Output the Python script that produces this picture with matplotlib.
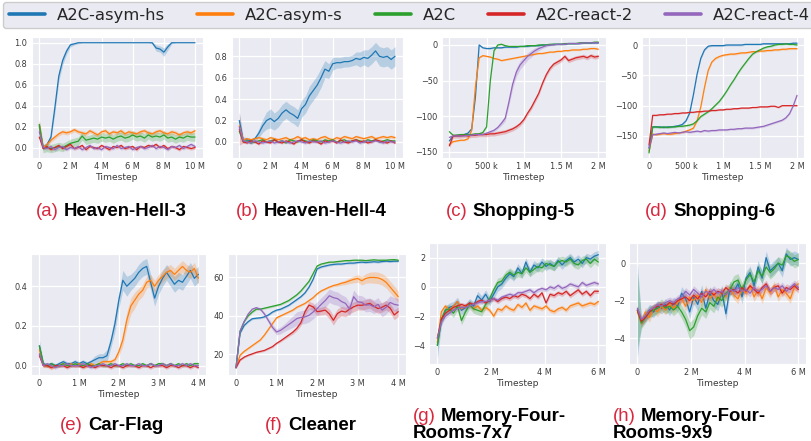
import matplotlib.pyplot as plt
import matplotlib.ticker as mticker
import numpy as np
import seaborn as sns

sns.set_style("darkgrid")
plt.rcParams["font.family"] = ["DejaVu Sans"]

W, H = 811, 441

labels = ["A2C-asym-hs", "A2C-asym-s", "A2C", "A2C-react-2", "A2C-react-4"]
colors = ["#1f77b4", "#ff7f0e", "#2ca02c", "#d62728", "#9467bd"]

# (a) Heaven-Hell-3, 0..10 M
hh3_asym_hs = [0.20, 0.00, 0.03, 0.10, 0.38, 0.68, 0.83, 0.92, 0.98, 0.99,
               1.00, 1.00, 1.00, 1.00, 1.00, 1.00, 1.00, 1.00, 1.00, 1.00,
               1.00, 1.00, 1.00, 1.00, 1.00, 1.00, 1.00, 1.00, 1.00, 1.00,
               0.95, 0.94, 0.91, 0.96, 1.00, 1.00, 1.00, 1.00, 1.00, 1.00,
               1.00]
hh3_asym_hs_sd = [0.05, 0.02, 0.02, 0.03, 0.05, 0.05, 0.04, 0.03, 0.02, 0.01,
                  0.01, 0.00, 0.00, 0.00, 0.00, 0.00, 0.00, 0.00, 0.00, 0.00,
                  0.00, 0.00, 0.00, 0.00, 0.00, 0.00, 0.00, 0.00, 0.00, 0.01,
                  0.03, 0.03, 0.04, 0.03, 0.01, 0.00, 0.00, 0.00, 0.00, 0.00,
                  0.00]
hh3_asym_s = [0.22, 0.00, 0.03, 0.07, 0.10, 0.13, 0.15, 0.14, 0.15, 0.17,
              0.15, 0.14, 0.13, 0.16, 0.14, 0.12, 0.15, 0.16, 0.13, 0.15,
              0.14, 0.16, 0.13, 0.15, 0.14, 0.13, 0.15, 0.16, 0.14, 0.13,
              0.15, 0.16, 0.14, 0.13, 0.15, 0.14, 0.12, 0.14, 0.15, 0.14,
              0.16]
hh3_asym_s_sd = [0.05, 0.01, 0.02, 0.02, 0.02, 0.02, 0.02, 0.02, 0.02, 0.02,
                 0.02, 0.02, 0.02, 0.02, 0.02, 0.02, 0.02, 0.02, 0.02, 0.02,
                 0.02, 0.02, 0.02, 0.02, 0.02, 0.02, 0.02, 0.02, 0.02, 0.02,
                 0.02, 0.02, 0.02, 0.02, 0.02, 0.02, 0.02, 0.02, 0.02, 0.02,
                 0.02]
hh3_a2c = [0.22, -0.01, 0.00, -0.01, 0.00, 0.01, 0.00, 0.02, 0.04, 0.05,
           0.06, 0.11, 0.07, 0.08, 0.09, 0.08, 0.10, 0.09, 0.10, 0.08,
           0.10, 0.11, 0.09, 0.10, 0.12, 0.10, 0.11, 0.09, 0.12, 0.10,
           0.11, 0.10, 0.12, 0.09, 0.10, 0.08, 0.10, 0.09, 0.11, 0.10,
           0.10]
hh3_react2 = [0.10, -0.01, 0.01, -0.02, 0.00, 0.02, -0.01, 0.01, 0.03, -0.01,
              0.00, 0.02, -0.02, 0.01, 0.00, -0.01, 0.02, 0.00, -0.02, 0.01,
              0.00, 0.02, -0.01, 0.00, 0.01, -0.02, 0.01, 0.00, 0.02, 0.01,
              0.03, 0.00, 0.02, -0.01, 0.01, 0.00, -0.02, 0.01, 0.00, -0.01,
              0.00]
hh3_react4 = [0.15, 0.00, -0.01, 0.01, -0.02, 0.00, 0.01, -0.02, 0.00, -0.01,
              0.01, -0.02, 0.00, 0.02, -0.01, 0.00, -0.02, 0.01, 0.00, -0.01,
              0.02, -0.01, 0.00, 0.01, -0.02, 0.00, 0.01, -0.01, 0.00, 0.02,
              -0.01, 0.01, 0.00, -0.02, 0.01, 0.00, 0.02, -0.01, 0.01, 0.03,
              0.01]

# (b) Heaven-Hell-4, 0..10 M
hh4_asym_hs = [0.20, 0.02, 0.02, 0.01, 0.03, 0.08, 0.15, 0.20, 0.22, 0.19,
               0.22, 0.27, 0.30, 0.27, 0.25, 0.22, 0.31, 0.35, 0.43, 0.48,
               0.53, 0.60, 0.68, 0.66, 0.73, 0.74, 0.74, 0.75, 0.75, 0.76,
               0.78, 0.77, 0.79, 0.78, 0.81, 0.85, 0.80, 0.79, 0.80, 0.77,
               0.80]
hh4_asym_hs_sd = [0.08, 0.03, 0.02, 0.02, 0.02, 0.04, 0.06, 0.08, 0.09, 0.08,
                  0.08, 0.08, 0.08, 0.08, 0.08, 0.08, 0.08, 0.08, 0.09, 0.09,
                  0.09, 0.09, 0.08, 0.07, 0.06, 0.05, 0.05, 0.05, 0.05, 0.05,
                  0.06, 0.07, 0.07, 0.08, 0.08, 0.08, 0.09, 0.09, 0.09, 0.09,
                  0.09]
hh4_asym_s = [0.15, 0.02, 0.03, 0.02, 0.03, 0.04, 0.03, 0.02, 0.04, 0.03,
              0.02, 0.03, 0.04, 0.02, 0.03, 0.05, 0.03, 0.04, 0.02, 0.03,
              0.02, 0.04, 0.05, 0.03, 0.02, 0.04, 0.03, 0.05, 0.04, 0.03,
              0.05, 0.04, 0.03, 0.04, 0.05, 0.03, 0.04, 0.05, 0.04, 0.05,
              0.04]
hh4_a2c = [0.10, 0.00, 0.01, -0.01, 0.00, 0.01, 0.02, 0.00, 0.01, 0.02,
           0.00, 0.01, -0.01, 0.02, 0.01, 0.00, 0.02, 0.01, 0.00, 0.02,
           0.01, 0.00, 0.02, 0.01, 0.02, 0.00, 0.01, 0.02, 0.00, 0.01,
           0.02, 0.01, 0.00, 0.02, 0.01, 0.02, 0.00, 0.01, 0.02, 0.01,
           0.01]
hh4_react2 = [0.12, 0.00, -0.01, 0.01, 0.00, -0.02, 0.01, 0.00, -0.01, 0.02,
              0.00, -0.01, 0.01, 0.00, -0.02, 0.01, 0.02, 0.00, -0.01, 0.01,
              0.00, -0.02, 0.01, 0.00, 0.01, -0.01, 0.02, 0.00, -0.01, 0.01,
              0.02, 0.00, 0.01, -0.01, 0.00, 0.02, 0.01, 0.00, -0.01, 0.01,
              -0.01]
hh4_react2_sd = [0.15, 0.01, 0.01, 0.01, 0.01, 0.01, 0.01, 0.01, 0.01, 0.01,
                 0.01, 0.01, 0.01, 0.01, 0.01, 0.01, 0.01, 0.01, 0.01, 0.01,
                 0.01, 0.01, 0.01, 0.01, 0.01, 0.01, 0.01, 0.01, 0.01, 0.01,
                 0.01, 0.01, 0.01, 0.01, 0.01, 0.01, 0.01, 0.01, 0.01, 0.01,
                 0.01]
hh4_react4 = [0.14, 0.01, 0.00, -0.01, 0.01, 0.00, -0.01, 0.00, 0.01, -0.01,
              0.00, 0.01, 0.00, -0.01, 0.00, 0.01, 0.00, -0.01, 0.01, 0.00,
              0.00, 0.01, -0.01, 0.00, 0.01, 0.00, -0.01, 0.00, 0.01, 0.00,
              0.01, -0.01, 0.00, 0.01, 0.00, 0.01, 0.00, -0.01, 0.01, 0.00,
              0.00]

# (c) Shopping-5, 0..2 M
sh5_asym_hs = [-135, -128, -127, -127, -126, -124, -118, -73, 0, -4,
               -5, -5, -4, -4, -4, -3, -3, -3, -3, -2,
               -2, -2, -1, -1, -1, 0, 0, 0, 1, 1,
               1, 1, 2, 2, 2, 2, 3, 3, 3, 3,
               3]
sh5_asym_s = [-140, -136, -135, -134, -134, -132, -120, -59, -18, -15,
              -16, -17, -19, -20, -22, -21, -20, -19, -18, -17,
              -16, -15, -14, -13, -12, -12, -11, -10, -10, -9,
              -9, -8, -8, -7, -7, -7, -6, -6, -5, -5,
              -6]
sh5_a2c = [-122, -127, -127, -126, -126, -126, -126, -125, -125, -123,
           -115, -50, -8, 0, 1, -1, -2, -2, -2, -2,
           -2, -1, -1, -1, 0, 0, 0, 1, 1, 1,
           1, 2, 2, 2, 2, 3, 3, 3, 3, 4,
           4]
sh5_react2 = [-142, -128, -128, -128, -127, -128, -127, -127, -126, -126,
              -126, -125, -125, -124, -123, -122, -120, -118, -115, -111,
              -105, -96, -88, -78, -68, -54, -42, -33, -27, -24,
              -21, -16, -22, -20, -18, -17, -16, -18, -15, -17,
              -16]
sh5_react4 = [-130, -128, -128, -128, -128, -127, -127, -126, -126, -126,
              -124, -122, -120, -116, -110, -103, -80, -55, -38, -28,
              -22, -16, -12, -8, -5, -3, -1, 0, 0, 1,
              1, 1, 2, 2, 2, 2, 3, 3, 3, 3,
              3]
sh5_react4_sd = [2, 1, 1, 1, 1, 1, 1, 1, 1, 1,
                 1, 1, 2, 2, 3, 4, 5, 6, 6, 6,
                 6, 5, 5, 4, 3, 2, 2, 1, 1, 1,
                 1, 1, 1, 1, 1, 1, 1, 1, 1, 1,
                 1]

# (d) Shopping-6, 0..2 M
sh6_asym_hs = [-170, -135, -135, -135, -136, -135, -135, -134, -133, -131,
               -125, -112, -82, -48, -22, -8, -2, -1, -1, -1,
               -1, 0, 0, 0, 0, 0, 1, 1, 1, 1,
               1, 2, 2, 2, 2, 2, 2, 2, 2, 3,
               3]
sh6_asym_s = [-175, -147, -148, -147, -146, -147, -147, -146, -145, -144,
              -142, -140, -137, -125, -102, -70, -42, -28, -22, -19,
              -17, -16, -15, -15, -14, -13, -13, -12, -11, -11,
              -10, -10, -9, -9, -8, -8, -7, -7, -6, -6,
              -6]
sh6_a2c = [-178, -135, -135, -136, -135, -136, -135, -135, -134, -134,
           -133, -132, -130, -125, -118, -114, -110, -105, -99, -93,
           -85, -76, -66, -57, -47, -38, -30, -22, -15, -11,
           -8, -5, -3, -2, 0, 1, 1, 2, 1, 1,
           0]
sh6_react2 = [-165, -116, -116, -115, -115, -114, -114, -113, -113, -112,
              -112, -111, -111, -110, -110, -109, -109, -108, -108, -107,
              -107, -106, -106, -105, -105, -104, -104, -104, -103, -103,
              -102, -102, -102, -101, -101, -103, -100, -100, -100, -100,
              -100]
sh6_react4 = [-170, -148, -147, -146, -145, -146, -145, -144, -145, -144,
              -143, -144, -143, -142, -143, -141, -142, -141, -141, -140,
              -140, -140, -139, -139, -138, -138, -137, -137, -137, -136,
              -135, -134, -132, -130, -128, -126, -124, -120, -113, -100,
              -83]

# (e) Car-Flag, 0..4 M
cf_asym_hs = [0.10, 0.01, 0.00, 0.01, 0.00, 0.01, 0.02, 0.01, 0.01, 0.02,
              0.01, 0.02, 0.01, 0.02, 0.03, 0.04, 0.04, 0.05, 0.12, 0.21,
              0.33, 0.43, 0.40, 0.42, 0.44, 0.47, 0.49, 0.50, 0.42, 0.34,
              0.40, 0.44, 0.47, 0.44, 0.41, 0.43, 0.42, 0.45, 0.48, 0.44,
              0.46]
cf_asym_hs_sd = [0.03, 0.01, 0.01, 0.01, 0.01, 0.01, 0.01, 0.01, 0.01, 0.01,
                 0.01, 0.01, 0.01, 0.01, 0.02, 0.02, 0.02, 0.03, 0.03, 0.04,
                 0.04, 0.05, 0.05, 0.04, 0.04, 0.04, 0.04, 0.04, 0.04, 0.04,
                 0.04, 0.04, 0.04, 0.04, 0.04, 0.04, 0.04, 0.04, 0.04, 0.04,
                 0.04]
cf_asym_s = [0.08, 0.00, 0.00, -0.01, 0.00, 0.00, 0.01, 0.00, 0.01, 0.00,
             0.01, 0.00, 0.00, 0.01, 0.00, 0.01, 0.02, 0.02, 0.02, 0.03,
             0.07, 0.13, 0.23, 0.30, 0.33, 0.36, 0.38, 0.42, 0.43, 0.40,
             0.43, 0.45, 0.47, 0.48, 0.46, 0.48, 0.50, 0.48, 0.47, 0.49,
             0.44]
cf_asym_s_sd = [0.02, 0.01, 0.01, 0.01, 0.01, 0.01, 0.01, 0.01, 0.01, 0.01,
                0.01, 0.01, 0.01, 0.01, 0.01, 0.01, 0.01, 0.01, 0.01, 0.01,
                0.02, 0.03, 0.04, 0.04, 0.04, 0.03, 0.03, 0.03, 0.03, 0.03,
                0.03, 0.03, 0.03, 0.03, 0.03, 0.03, 0.03, 0.03, 0.03, 0.03,
                0.03]
cf_a2c = [0.10, 0.01, 0.00, 0.01, 0.00, 0.00, 0.01, 0.00, 0.00, 0.01,
          0.00, 0.00, 0.01, 0.00, 0.00, 0.01, 0.00, 0.00, 0.01, 0.00,
          0.00, 0.01, 0.00, 0.01, 0.00, 0.00, 0.01, 0.00, 0.01, 0.00,
          0.01, 0.01, 0.00, 0.01, 0.00, 0.01, 0.00, 0.01, 0.00, 0.01,
          0.01]
cf_react2 = [0.05, 0.00, 0.00, -0.01, 0.00, 0.00, 0.00, -0.01, 0.00, 0.00,
             0.00, -0.01, 0.00, 0.00, -0.01, 0.00, 0.00, 0.00, -0.01, 0.00,
             0.00, -0.01, 0.00, 0.00, 0.00, -0.01, 0.00, 0.00, -0.01, 0.00,
             0.00, 0.00, -0.01, 0.00, 0.00, -0.01, 0.00, 0.00, -0.01, 0.00,
             -0.01]
cf_react4 = [0.06, 0.00, 0.01, 0.00, -0.01, 0.00, 0.00, 0.01, 0.00, 0.00,
             0.00, 0.01, 0.00, -0.01, 0.00, 0.00, 0.01, 0.00, 0.00, 0.01,
             0.00, 0.00, 0.01, 0.00, 0.00, 0.01, 0.00, 0.00, 0.01, 0.00,
             0.00, 0.01, 0.00, 0.01, 0.00, 0.00, 0.01, 0.00, 0.01, 0.00,
             0.00]

# (f) Cleaner, 0..4 M
cl_asym_hs = [13, 31, 35, 37, 38.5, 38.8, 39, 39.5, 40.5, 42,
              43, 43.5, 44.5, 45.5, 47, 48.5, 50, 52, 55, 59,
              64.5, 65.5, 66, 66.5, 66.8, 67, 67, 67.3, 67.5, 67.5,
              67.8, 68, 67.8, 68, 68.2, 68, 68.3, 68.5, 68.3, 68.5,
              68.5]
cl_asym_s = [13, 19.5, 21.5, 23, 24.5, 26, 27.5, 30, 33, 36,
             39, 40, 41, 42, 43, 44.5, 45.5, 46.5, 48, 49.5,
             51.5, 53, 54, 55, 55.8, 56.3, 57, 57.5, 58.3, 59,
             59.5, 58.3, 59.5, 60, 60, 59.8, 59, 57.5, 55, 52.5,
             50]
cl_asym_s_sd = [0.5, 0.5, 0.5, 0.5, 0.5, 0.5, 0.5, 0.5, 0.5, 0.5,
                0.5, 0.5, 0.5, 0.5, 0.5, 0.5, 0.5, 0.5, 0.5, 0.5,
                0.5, 0.5, 0.5, 0.5, 0.5, 0.8, 1.0, 1.2, 1.5, 1.8,
                2.0, 2.2, 2.5, 2.8, 3.0, 3.0, 3.0, 3.0, 3.0, 3.0,
                3.0]
cl_a2c = [13, 32, 37, 40, 42, 43.5, 43.5, 44, 44.5, 45,
          45.5, 46, 47, 48, 49.5, 51, 53, 55.5, 58, 62,
          66, 67, 67.5, 68, 68, 68.3, 68.5, 68.8, 68.8, 69,
          69, 69, 68.8, 69, 69.2, 69, 69, 69, 69.2, 69.3,
          69]
cl_react2 = [13, 17, 18.5, 19.5, 20.2, 21, 21.5, 22, 23, 24,
             25.7, 27, 28.5, 30, 31.5, 33.5, 36.5, 42.2, 45.6, 44.7,
             42.2, 42.5, 43, 41, 37.7, 41.2, 42.5, 42, 43.5, 44.7,
             45.6, 45.5, 46, 46.5, 45, 43.8, 44.5, 45.6, 44, 40.5,
             42.2]
cl_react2_sd = [0.5, 0.5, 0.5, 0.5, 0.5, 0.5, 0.5, 0.5, 0.5, 0.5,
                0.5, 0.6, 0.7, 0.8, 1.0, 1.2, 1.5, 1.8, 2.0, 2.0,
                2.0, 2.0, 2.2, 2.5, 2.5, 2.5, 2.5, 2.5, 2.5, 2.5,
                2.5, 2.5, 2.5, 2.5, 2.5, 2.5, 2.5, 2.5, 2.5, 2.5,
                2.5]
cl_react4 = [13, 32, 37, 41, 43.5, 44.3, 43.5, 41, 37.5, 34,
             31.6, 32.5, 34, 35.5, 37, 38.6, 39.2, 39.5, 40.3, 42,
             43.8, 46, 48, 50.5, 49.5, 49, 47.5, 46.5, 43.5, 50,
             47.3, 47, 45.6, 45.8, 44.7, 46, 43, 44.5, 47, 46,
             45.6]
cl_react4_sd = [0.5, 0.5, 0.5, 0.5, 0.5, 0.5, 0.7, 1.0, 1.2, 1.5,
                1.5, 1.8, 2.0, 2.5, 3.0, 3.5, 3.5, 3.5, 3.5, 3.5,
                3.5, 3.5, 3.5, 3.5, 3.5, 3.5, 3.5, 3.5, 3.5, 3.5,
                3.5, 3.5, 3.5, 3.5, 3.5, 3.5, 3.5, 3.5, 3.5, 3.5,
                3.5]

# (g) Memory-Four-Rooms-7x7, 0..6 M
m7_asym_hs = [-4.0, -2.3, -1.6, -1.4, -1.3, -1.0, -1.6, -1.4, -1.1, -1.3,
              -0.6, -0.9, -0.5, -1.0, -0.5, 0.0, 0.2, 0.6, 0.9, 0.7,
              1.3, 0.9, 1.7, 1.0, 1.5, 1.3, 1.7, 1.4, 1.6, 1.4,
              1.8, 1.5, 1.8, 2.0, 1.7, 1.9, 1.6, 2.0, 1.9, 2.1,
              2.2]
m7_asym_hs_sd = [0.9, 0.4, 0.3, 0.3, 0.3, 0.3, 0.3, 0.3, 0.3, 0.3,
                 0.3, 0.3, 0.3, 0.3, 0.3, 0.3, 0.3, 0.3, 0.3, 0.3,
                 0.3, 0.3, 0.3, 0.3, 0.3, 0.3, 0.3, 0.3, 0.3, 0.3,
                 0.3, 0.3, 0.3, 0.3, 0.3, 0.3, 0.3, 0.3, 0.3, 0.3,
                 0.3]
m7_asym_s = [-3.8, -1.7, -1.3, -1.6, -1.3, -1.0, -1.5, -1.3, -1.2, -1.5,
             -1.3, -1.6, -1.4, -1.6, -2.0, -1.5, -1.6, -1.3, -1.5, -1.6,
             -1.2, -1.4, -1.1, -1.6, -1.3, -1.4, -1.5, -1.3, -1.6, -1.7,
             -1.5, -1.4, -1.6, -1.3, -1.2, -1.1, -1.3, -1.2, -1.1, -1.2,
             -1.0]
m7_a2c = [-4.0, -2.2, -1.6, -1.5, -1.8, -1.3, -2.3, -1.7, -1.2, -1.5,
          -1.6, -1.7, -1.2, -0.8, -0.2, 0.3, 0.4, 0.8, 1.0, 0.8,
          1.0, 0.9, 1.3, 1.0, 1.2, 1.4, 1.3, 1.6, 1.5, 1.4,
          1.7, 1.8, 1.7, 1.9, 1.6, 1.5, 1.8, 1.9, 1.6, 1.9,
          1.7]
m7_react2 = [-3.5, -2.2, -1.8, -1.6, -1.4, -1.3, -1.2, -1.3, -1.1, -1.2,
             -1.0, -0.9, -1.1, -0.9, -0.8, -1.0, -0.8, -0.7, -0.8, -0.6,
             -0.7, -0.5, -0.6, -0.8, -0.5, -0.7, -0.4, -1.1, -0.5, -0.6,
             -0.4, -0.5, -0.3, -0.6, -0.4, -0.2, -0.5, -0.3, -0.6, -0.3,
             -0.3]
m7_react4 = [-3.5, -2.4, -2.0, -1.8, -1.6, -1.5, -1.4, -1.4, -1.3, -1.2,
             -1.1, -1.0, -1.0, -0.9, -0.8, -0.9, -0.7, -0.6, -0.5, -0.6,
             -0.4, -0.4, -0.3, -0.2, -0.4, -0.2, -0.1, -0.2, 0.0, -0.1,
             0.1, -0.1, 0.0, 0.2, 0.1, 0.0, 0.3, 0.1, 0.2, 0.3,
             0.2]

# (h) Memory-Four-Rooms-9x9, 0..6 M
m9_asym_hs = [-2.5, -3.1, -2.8, -2.5, -2.6, -2.3, -2.4, -2.2, -2.5, -2.1,
              -2.3, -1.6, -1.9, -2.6, -1.8, -2.2, -1.5, -2.4, -1.6, -2.0,
              -2.2, -1.5, -2.7, -1.3, -1.5, -1.1, -1.8, -0.8, -0.5, -1.2,
              -0.2, -0.8, 0.3, -0.4, -0.2, 0.0, -0.4, 0.5, 0.2, 0.3,
              0.2]
m9_asym_hs_sd = [2.5, 0.3, 0.3, 0.3, 0.3, 0.3, 0.3, 0.3, 0.3, 0.3,
                 0.3, 0.35, 0.35, 0.35, 0.35, 0.35, 0.35, 0.35, 0.35, 0.35,
                 0.35, 0.35, 0.35, 0.35, 0.35, 0.35, 0.35, 0.35, 0.35, 0.35,
                 0.35, 0.35, 0.35, 0.35, 0.35, 0.35, 0.35, 0.35, 0.35, 0.35,
                 0.35]
m9_asym_s = [-2.6, -3.2, -2.6, -2.9, -2.4, -2.6, -2.3, -2.5, -2.2, -2.4,
             -2.1, -1.9, -2.3, -1.8, -2.0, -1.7, -2.1, -1.4, -1.9, -1.6,
             -2.0, -1.5, -1.8, -1.3, -1.7, -1.9, -1.4, -1.6, -1.2, -1.8,
             -1.4, -1.9, -1.3, -1.6, -1.2, -1.8, -1.4, -1.6, -1.9, -1.3,
             -1.1]
m9_a2c = [-2.5, -3.2, -2.9, -2.6, -2.5, -2.4, -2.2, -2.4, -2.3, -2.5,
          -2.3, -2.6, -3.0, -3.6, -3.4, -2.8, -2.4, -2.6, -2.1, -2.3,
          -1.8, -2.0, -1.6, -1.4, -1.0, -0.9, -1.4, -0.9, -0.6, -1.0,
          -0.4, -0.7, -0.2, -0.5, -0.3, 0.0, -0.1, 0.4, 0.3, 0.1,
          0.2]
m9_a2c_sd = [2.0, 0.3, 0.3, 0.3, 0.3, 0.3, 0.3, 0.3, 0.3, 0.3,
             0.3, 0.35, 0.4, 0.45, 0.45, 0.4, 0.35, 0.35, 0.35, 0.35,
             0.35, 0.35, 0.35, 0.35, 0.35, 0.35, 0.35, 0.35, 0.35, 0.35,
             0.35, 0.35, 0.35, 0.35, 0.35, 0.35, 0.35, 0.35, 0.35, 0.35,
             0.35]
m9_react2 = [-2.5, -3.1, -2.9, -2.6, -2.4, -2.3, -2.2, -2.3, -2.1, -2.2,
             -2.0, -1.9, -1.8, -2.0, -1.7, -1.9, -1.6, -1.8, -1.5, -1.7,
             -1.5, -1.6, -1.3, -1.5, -1.4, -1.6, -1.3, -1.5, -1.2, -1.4,
             -1.6, -1.3, -1.1, -1.5, -1.3, -1.2, -1.6, -1.3, -1.4, -1.2,
             -1.4]
m9_react4 = [-2.4, -3.0, -2.8, -2.5, -2.4, -2.2, -2.3, -2.1, -2.0, -2.1,
             -1.9, -1.8, -1.5, -1.7, -1.4, -1.6, -1.8, -1.5, -1.6, -1.4,
             -1.6, -1.5, -1.7, -1.4, -1.5, -1.3, -1.5, -1.4, -1.6, -1.3,
             -1.5, -1.4, -1.2, -1.5, -1.3, -1.4, -1.2, -1.5, -1.3, -1.1,
             -1.3]

panels = [
    (10e6, [hh3_asym_hs, hh3_asym_s, hh3_a2c, hh3_react2, hh3_react4],
     [hh3_asym_hs_sd, hh3_asym_s_sd, 0.04, 0.015, 0.015],
     (-0.10, 1.055), [0, 0.2, 0.4, 0.6, 0.8, 1.0], [0, 2e6, 4e6, 6e6, 8e6, 10e6]),
    (10e6, [hh4_asym_hs, hh4_asym_s, hh4_a2c, hh4_react2, hh4_react4],
     [hh4_asym_hs_sd, 0.015, 0.01, hh4_react2_sd, 0.012],
     (-0.15, 0.98), [0, 0.2, 0.4, 0.6, 0.8], [0, 2e6, 4e6, 6e6, 8e6, 10e6]),
    (2e6, [sh5_asym_hs, sh5_asym_s, sh5_a2c, sh5_react2, sh5_react4],
     [1, 1, 1, 3, sh5_react4_sd],
     (-159, 11.2), [-150, -100, -50, 0], [0, 5e5, 1e6, 1.5e6, 2e6]),
    (2e6, [sh6_asym_hs, sh6_asym_s, sh6_a2c, sh6_react2, sh6_react4],
     [1.5, 1.5, 1.5, 1, 1.5],
     (-186.3, 13.2), [-150, -100, -50, 0], [0, 5e5, 1e6, 1.5e6, 2e6]),
    (4e6, [cf_asym_hs, cf_asym_s, cf_a2c, cf_react2, cf_react4],
     [cf_asym_hs_sd, cf_asym_s_sd, 0.008, 0.008, 0.008],
     (-0.047, 0.565), [0, 0.2, 0.4], [0, 1e6, 2e6, 3e6, 4e6]),
    (4e6, [cl_asym_hs, cl_asym_s, cl_a2c, cl_react2, cl_react4],
     [0.5, cl_asym_s_sd, 0.5, cl_react2_sd, cl_react4_sd],
     (9.2, 72.5), [20, 40, 60], [0, 1e6, 2e6, 3e6, 4e6]),
    (6e6, [m7_asym_hs, m7_asym_s, m7_a2c, m7_react2, m7_react4],
     [m7_asym_hs_sd, 0.15, 0.3, 0.15, 0.15],
     (-5.27, 3.0), [-4, -2, 0, 2], [0, 2e6, 4e6, 6e6]),
    (6e6, [m9_asym_hs, m9_asym_s, m9_a2c, m9_react2, m9_react4],
     [m9_asym_hs_sd, 0.25, m9_a2c_sd, 0.2, 0.2],
     (-5.38, 1.08), [-4, -2, 0], [0, 2e6, 4e6, 6e6]),
]

# axes boxes in pixels: left, top, right, bottom
boxes = [(31.5, 37, 202.8, 158), (231.5, 37, 402.8, 158),
         (441.9, 37, 605.8, 158), (641.6, 37, 804.4, 158),
         (31.4, 253.5, 206.3, 375), (227.9, 253.5, 406.4, 375),
         (429.3, 243, 606.4, 364), (629.3, 243, 806.4, 364)]

captions = [("a", ["Heaven-Hell-3"], 36, 216), ("b", ["Heaven-Hell-4"], 236, 216),
            ("c", ["Shopping-5"], 446, 216), ("d", ["Shopping-6"], 645, 216),
            ("e", ["Car-Flag"], 60, 430), ("f", ["Cleaner"], 265, 430),
            ("g", ["Memory-Four-", "Rooms-7x7"], 413, 421),
            ("h", ["Memory-Four-", "Rooms-9x9"], 613, 421)]

fig = plt.figure(figsize=(W / 100, H / 100), dpi=100)
axes = []
for (xmax, curves, bands, ylim, yticks, xticks), (l, t, r, b) in zip(panels, boxes):
    ax = fig.add_axes([l / W, 1 - b / H, (r - l) / W, (b - t) / H])
    x = np.linspace(0, xmax, len(curves[0]))
    for y, sd, c, lab in zip(curves, bands, colors, labels):
        y = np.asarray(y, float)
        sd = np.asarray(sd, float)
        ax.fill_between(x, y - sd, y + sd, color=c, alpha=0.25, lw=0)
        ax.plot(x, y, color=c, lw=0.9, label=lab)
    ax.set_xlim(-0.05 * xmax, 1.05 * xmax)
    ax.set_ylim(*ylim)
    ax.set_xticks(xticks)
    ax.set_yticks(yticks)
    ax.xaxis.set_major_formatter(mticker.EngFormatter(sep=" "))
    ax.tick_params(labelsize=5.9, length=0, pad=3, colors="#3a3a3a")
    ax.set_xlabel("Timestep", fontsize=6.6, labelpad=1.5, color="#3a3a3a")
    ax.grid(color="white", lw=0.9)
    axes.append(ax)

cap_font = dict(fontsize=13.4, family="Liberation Sans")
for tag, lines, x_px, y_px in captions:
    red = fig.text(x_px / W, 1 - y_px / H, f"({tag})", color="#d8283e",
                   va="baseline", **cap_font)
    axes[0].annotate(lines[0], xy=(1, 0), xycoords=red, xytext=(3.7, 0),
                     textcoords="offset points", va="bottom", color="black",
                     weight="bold", annotation_clip=False, **cap_font)
    if len(lines) > 1:
        fig.text(x_px / W, 1 - (y_px + 17.2) / H, lines[1], color="black",
                 va="baseline", weight="bold", **cap_font)

handles, labs = axes[0].get_legend_handles_labels()
leg = fig.legend(handles, labs, loc="upper left", bbox_to_anchor=(3 / W, 1 - 2 / H),
                 ncol=5, fontsize=11.8, handlelength=2.2, handletextpad=0.73,
                 columnspacing=1.95, borderaxespad=0, borderpad=0.35,
                 frameon=True, facecolor="#eaeaf2", edgecolor="#cccccc",
                 framealpha=1)
for line in leg.get_lines():
    line.set_linewidth(2.6)

fig.savefig("out.png", dpi=100)
